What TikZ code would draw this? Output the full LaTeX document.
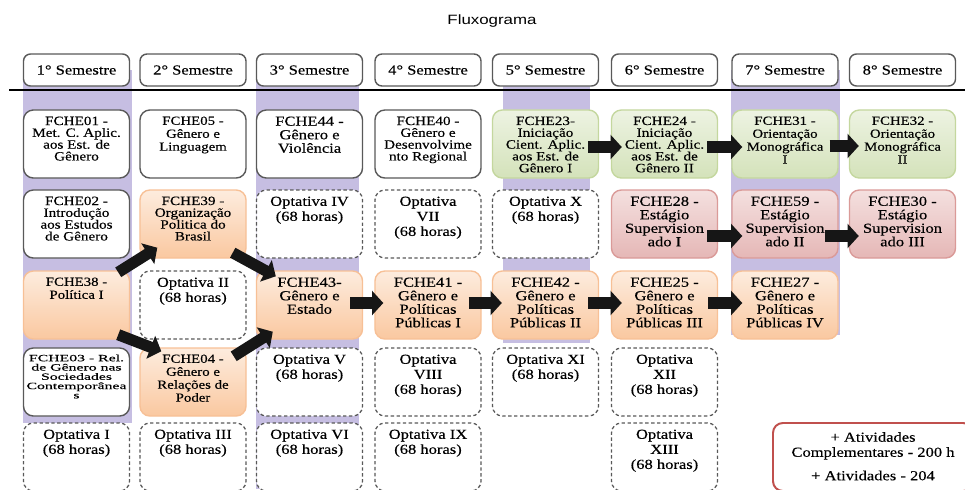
\documentclass[tikz,border=0pt]{standalone}
\usepackage{fontspec}
\setmainfont{Liberation Serif}[FakeStretch=1.2,FakeBold=0.3]
\setsansfont{Liberation Sans}[FakeStretch=1.25]
\newfontfamily\widefont{Liberation Serif}[FakeStretch=1.65,FakeBold=0.3]
\usetikzlibrary{arrows.meta,calc}

\definecolor{boxgray}{RGB}{89,89,89}
\definecolor{lilac}{RGB}{198,190,226}
\definecolor{poltop}{RGB}{253,236,222}
\definecolor{polbot}{RGB}{250,200,160}
\definecolor{polline}{RGB}{247,192,150}
\definecolor{tcctop}{RGB}{237,243,226}
\definecolor{tccbot}{RGB}{212,226,186}
\definecolor{tccline}{RGB}{196,215,158}
\definecolor{stgtop}{RGB}{244,224,223}
\definecolor{stgbot}{RGB}{229,183,182}
\definecolor{stgline}{RGB}{218,154,152}
\definecolor{actline}{RGB}{192,80,77}

\newcommand\fopt{\fontsize{9.8}{10.7}\selectfont}
\newcommand\fbig{\fontsize{9.8}{9.6}\selectfont}
\newcommand\fmid{\fontsize{8.8}{9.2}\selectfont}
\newcommand\fsml{\fontsize{9.0}{8.4}\selectfont}
\newcommand\fwide{\widefont\fontsize{6.8}{6.6}\selectfont}

\tikzset{
  sem/.style={
    draw=boxgray,
    line width=1pt,
    rounded corners=5pt,
    fill=white,
    minimum width=2.65cm,
    minimum height=0.8cm,
    font=\fopt
  },
  discbox/.style={
    draw=boxgray,
    line width=1pt,
    rounded corners=7pt,
    fill=white,
    minimum width=2.65cm,
    minimum height=1.7cm
  },
  optbox/.style={
    discbox,
    line width=0.9pt,
    dash pattern=on 2.4pt off 1.8pt
  },
  polbox/.style={
    discbox,
    draw=polline,
    top color=poltop,
    bottom color=polbot
  },
  tccbox/.style={
    discbox,
    draw=tccline,
    top color=tcctop,
    bottom color=tccbot
  },
  stgbox/.style={
    discbox,
    draw=stgline,
    top color=stgtop,
    bottom color=stgbot
  },
  actbox/.style={
    discbox,
    draw=actline,
    line width=1.4pt,
    minimum width=5cm
  },
  txt/.style={anchor=north, align=center, inner sep=5pt},
  topt/.style={txt, font=\fopt},
  tbig/.style={txt, font=\fbig},
  tmid/.style={txt, font=\fmid},
  tsml/.style={txt, font=\fsml},
  twide/.style={txt, font=\fwide},
  flow/.style={
    line width=8pt,
    draw={rgb,255:red,22;green,22;blue,22},
    -{Triangle[length=8pt, width=17pt]}
  }
}

\begin{document}
\begin{tikzpicture}[x=0.025cm,y=-0.025cm]
\useasboundingbox (0,0) rectangle (965,489);
\clip (0,0) rectangle (965,489);

% colunas destacadas
\fill[lilac] (23,70) rectangle (132,423);
\fill[lilac] (256,70) rectangle (359,489);
\fill[lilac] (503,70) rectangle (590,343);
\fill[lilac] (731,70) rectangle (840,335);
\draw[line width=0.8pt] (9,90) -- (965,90);

\node[font=\sffamily\fontsize{9.6}{11}\selectfont] (titulo) at (492,21) {Fluxograma};

\foreach \n/\x in {1/76.5,2/193,3/309.5,4/428,5/545.5,6/664.5,7/785,8/902.5}{
    \node[sem] (s\n) at (\x,70) {\n{}° Semestre};
}

% linha 1
\node[discbox,label={[tsml]north:FCHE01 -\\Met. C. Aplic.\\aos Est. de\\Gênero}] (f01) at (76.5,144) {};
\node[discbox,label={[tmid]north:FCHE05 -\\Gênero e\\Linguagem}] (f05) at (193,144) {};
\node[discbox,label={[tbig]north:FCHE44 -\\Gênero e\\Violência}] (f44) at (309.5,144) {};
\node[discbox,label={[tsml]north:FCHE40 -\\Gênero e\\Desenvolvime\\nto Regional}] (f40) at (428,144) {};
\node[tccbox,label={[tsml]north:FCHE23-\\Iniciação\\Cient. Aplic.\\aos Est. de\\Gênero I}] (f23) at (545.5,144) {};
\node[tccbox,label={[tsml]north:FCHE24 -\\Iniciação\\Cient. Aplic.\\aos Est. de\\Gênero II}] (f24) at (664.5,144) {};
\node[tccbox,label={[tmid]north:FCHE31 -\\Orientação\\Monográfica\\I}] (f31) at (785,144) {};
\node[tccbox,label={[tmid]north:FCHE32 -\\Orientação\\Monográfica\\II}] (f32) at (902.5,144) {};

% linha 2
\node[discbox,label={[tsml]north:FCHE02 -\\Introdução\\aos Estudos\\de Gênero}] (f02) at (76.5,224) {};
\node[polbox,label={[tsml]north:FCHE39 -\\Organização\\Politica do\\Brasil}] (f39) at (193,224) {};
\node[optbox,label={[topt]north:Optativa IV\\(68 horas)}] (op4) at (309.5,224) {};
\node[optbox,label={[topt]north:Optativa\\VII\\(68 horas)}] (op7) at (428,224) {};
\node[optbox,label={[topt]north:Optativa X\\(68 horas)}] (op10) at (545.5,224) {};
\node[stgbox,label={[tbig]north:FCHE28 -\\Estágio\\Supervision\\ado I}] (f28) at (664.5,224) {};
\node[stgbox,label={[tbig]north:FCHE59 -\\Estágio\\Supervision\\ado II}] (f59) at (785,224) {};
\node[stgbox,label={[tbig]north:FCHE30 -\\Estágio\\Supervision\\ado III}] (f30) at (902.5,224) {};

% linha 3
\node[polbox,label={[tmid]north:FCHE38 -\\Política I}] (f38) at (76.5,305) {};
\node[optbox,label={[topt]north:Optativa II\\(68 horas)}] (op2) at (193,305) {};
\node[polbox,label={[tbig]north:FCHE43-\\Gênero e\\Estado}] (f43) at (309.5,305) {};
\node[polbox,label={[tbig]north:FCHE41 -\\Gênero e\\Políticas\\Públicas I}] (f41) at (428,305) {};
\node[polbox,label={[tbig]north:FCHE42 -\\Gênero e\\Políticas\\Públicas II}] (f42) at (545.5,305) {};
\node[polbox,label={[tbig]north:FCHE25 -\\Gênero e\\Políticas\\Públicas III}] (f25) at (664.5,305) {};
\node[polbox,label={[tbig]north:FCHE27 -\\Gênero e\\Políticas\\Públicas IV}] (f27) at (785,305) {};

% linha 4
\node[discbox,label={[twide]north:FCHE03 - Rel.\\de Gênero nas\\Sociedades\\Contemporânea\\s}] (f03) at (76.5,382) {};
\node[polbox,label={[tmid]north:FCHE04 -\\Gênero e\\Relações de\\Poder}] (f04) at (193,382) {};
\node[optbox,label={[topt]north:Optativa V\\(68 horas)}] (op5) at (309.5,382) {};
\node[optbox,label={[topt]north:Optativa\\VIII\\(68 horas)}] (op8) at (428,382) {};
\node[optbox,label={[topt]north:Optativa XI\\(68 horas)}] (op11) at (545.5,382) {};
\node[optbox,label={[topt]north:Optativa\\XII\\(68 horas)}] (op12) at (664.5,382) {};

% linha 5
\node[optbox,label={[topt]north:Optativa I\\(68 horas)}] (op1) at (76.5,457) {};
\node[optbox,label={[topt]north:Optativa III\\(68 horas)}] (op3) at (193,457) {};
\node[optbox,label={[topt]north:Optativa VI\\(68 horas)}] (op6) at (309.5,457) {};
\node[optbox,label={[topt]north:Optativa IX\\(68 horas)}] (op9) at (428,457) {};
\node[optbox,label={[topt]north:Optativa\\XIII\\(68 horas)}] (op13) at (664.5,457) {};
\node[actbox,label={[topt,inner sep=7pt]north:+ Atividades\\Complementares - 200 h\\[6pt]+ Atividades - 204}] (ativ) at (873,457) {};

% setas
\draw[flow] ($(f38.north east)+(-12,2)$) -- ($(f39.south west)+(18,-11)$);
\draw[flow] ($(f39.south east)+(-14,-6)$) -- ($(f43.north west)+(20,6)$);
\draw[flow] ($(f38.south east)+(-12,-5)$) -- ($(f04.north west)+(22,4)$);
\draw[flow] ($(f04.north east)+(-13,9)$) -- ($(f43.south west)+(17,-8)$);
\draw[flow] ($(f23.east)+(-11,3)$) -- ($(f24.west)+(11,3)$);
\draw[flow] ($(f24.east)+(-11,3)$) -- ($(f31.west)+(11,3)$);
\draw[flow] ($(f31.east)+(-9,2)$) -- ($(f32.west)+(10,2)$);
\draw[flow] ($(f28.east)+(-11,12)$) -- ($(f59.west)+(11,12)$);
\draw[flow] ($(f59.east)+(-14,12)$) -- ($(f30.west)+(10,12)$);
\draw[flow] ($(f43.east)+(-13,-2)$) -- ($(f41.west)+(9,-2)$);
\draw[flow] ($(f41.east)+(-13,-2)$) -- ($(f42.west)+(10,-2)$);
\draw[flow] ($(f42.east)+(-11,-2)$) -- ($(f25.west)+(11,-2)$);
\draw[flow] ($(f25.east)+(-10,-2)$) -- ($(f27.west)+(11,-2)$);
\end{tikzpicture}
\end{document}
